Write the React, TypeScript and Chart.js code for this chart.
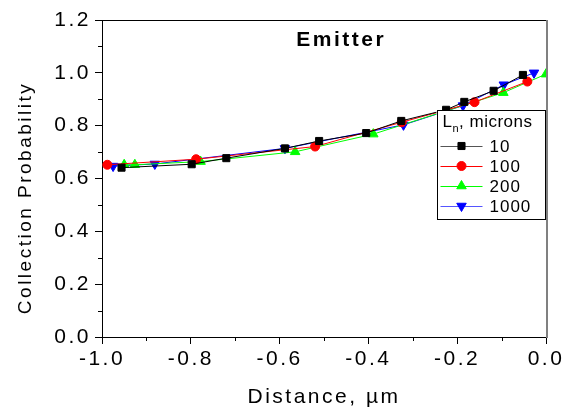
import React, { useEffect, useRef } from 'react';
import { Chart, registerables } from 'chart.js';

Chart.register(...registerables);

// ---- data ----
const distance10 = [-0.956, -0.798, -0.72, -0.588, -0.511, -0.405, -0.326, -0.225, -0.184, -0.118, -0.052];
const probability10 = [0.641, 0.654, 0.677, 0.714, 0.742, 0.772, 0.818, 0.86, 0.89, 0.932, 0.992];

const distance100 = [-0.988, -0.788, -0.52, -0.325, -0.161, -0.042];
const probability100 = [0.652, 0.673, 0.721, 0.813, 0.889, 0.967];

const distance200 = [-0.95, -0.926, -0.778, -0.565, -0.389, -0.096, 0.0];
const probability200 = [0.652, 0.652, 0.664, 0.701, 0.768, 0.925, 0.995];

const distance1000 = [-0.975, -0.881, -0.588, -0.321, -0.187, -0.095, -0.027];
const probability1000 = [0.647, 0.655, 0.714, 0.803, 0.876, 0.955, 1.0];

const seriesLabels = ['10', '100', '200', '1000'];
const xTicks = [-1.0, -0.8, -0.6, -0.4, -0.2, 0.0];
const yTicks = [0.0, 0.2, 0.4, 0.6, 0.8, 1.0, 1.2];

const chartTitle = 'Emitter';
const legendTitleMain = 'L';
const legendTitleSub = 'n';
const legendTitleRest = ', microns';
const xTitle = 'Distance, µm';
const yTitle = 'Collection Probability';

const FONT = '"Liberation Sans", Arial, Helvetica, sans-serif';
const LS = 2.5;

const fmt = (v: number) => {
  const s = Number(v).toFixed(1);
  return s === '-0.0' ? '0.0' : s;
};

function drawMarker(ctx: CanvasRenderingContext2D, style: string, x: number, y: number, r: number, rot: number, color: string) {
  ctx.save();
  ctx.fillStyle = color;
  ctx.strokeStyle = color;
  ctx.beginPath();
  if (style === 'rect') {
    const s = Math.SQRT1_2 * r;
    ctx.rect(x - s, y - s, 2 * s, 2 * s);
  } else if (style === 'circle') {
    ctx.arc(x, y, r, 0, Math.PI * 2);
  } else {
    const rad = (rot * Math.PI) / 180;
    for (let k = 0; k < 3; k++) {
      const a = rad + (k * 2 * Math.PI) / 3;
      const px = x + Math.sin(a) * r;
      const py = y - Math.cos(a) * r;
      if (k === 0) ctx.moveTo(px, py);
      else ctx.lineTo(px, py);
    }
    ctx.closePath();
  }
  ctx.fill();
  ctx.stroke();
  ctx.restore();
}

const spacingPlugin = {
  id: 'spacing',
  beforeUpdate(chart: any) {
    (chart.ctx as any).letterSpacing = LS + 'px';
  },
  beforeLayout(chart: any) {
    (chart.ctx as any).letterSpacing = LS + 'px';
  },
  beforeDraw(chart: any) {
    (chart.ctx as any).letterSpacing = LS + 'px';
  },
};

const framePlugin = {
  id: 'frame',
  beforeDatasetsDraw(chart: any) {
    const { ctx, chartArea, scales } = chart;
    const { left, top, right, bottom } = chartArea;
    ctx.save();
    ctx.strokeStyle = '#000';
    ctx.lineWidth = 1;
    ctx.beginPath();
    ctx.moveTo(left, Math.round(top) + 0.5);
    ctx.lineTo(right, Math.round(top) + 0.5);
    ctx.stroke();
    // minor ticks between major ones
    const xs = scales.x.ticks;
    ctx.beginPath();
    for (let i = 0; i < xs.length - 1; i++) {
      const v = (xs[i].value + xs[i + 1].value) / 2;
      const px = Math.round(scales.x.getPixelForValue(v)) + 0.5;
      ctx.moveTo(px, bottom);
      ctx.lineTo(px, bottom + 4);
    }
    const ys = scales.y.ticks;
    for (let i = 0; i < ys.length - 1; i++) {
      const v = (ys[i].value + ys[i + 1].value) / 2;
      const py = Math.round(scales.y.getPixelForValue(v)) + 0.5;
      ctx.moveTo(left, py);
      ctx.lineTo(left - 4, py);
    }
    ctx.stroke();
    ctx.strokeStyle = '#808080';
    ctx.lineWidth = 2;
    ctx.beginPath();
    ctx.moveTo(right + 1, top);
    ctx.lineTo(right + 1, bottom + 1);
    ctx.stroke();
    ctx.restore();
  },
};

const annotationPlugin = {
  id: 'annot',
  afterDatasetsDraw(chart: any) {
    const { ctx, chartArea } = chart;
    ctx.save();
    // chart title inside plot
    (ctx as any).letterSpacing = LS + 'px';
    ctx.fillStyle = '#000';
    ctx.font = `bold 21px ${FONT}`;
    ctx.textAlign = 'center';
    ctx.textBaseline = 'middle';
    ctx.fillText(chartTitle, chartArea.left + 238 + LS / 2, chartArea.top + 20);

    // legend box
    const right = chartArea.right - 1.5;
    const left = right - 108;
    const top = chartArea.top + 90;
    const bottom = top + 109;
    ctx.fillStyle = '#fff';
    ctx.fillRect(left, top, right - left, bottom - top);
    ctx.strokeStyle = '#000';
    ctx.lineWidth = 1;
    ctx.strokeRect(Math.round(left) + 0.5, Math.round(top) + 0.5, Math.round(right - left), Math.round(bottom - top));

    (ctx as any).letterSpacing = '0.5px';
    ctx.fillStyle = '#000';
    ctx.textAlign = 'left';
    ctx.textBaseline = 'alphabetic';
    ctx.font = `17px ${FONT}`;
    const tx = left + 6;
    ctx.fillText(legendTitleMain, tx, top + 17);
    const lw = ctx.measureText(legendTitleMain).width;
    ctx.font = `11px ${FONT}`;
    ctx.fillText(legendTitleSub, tx + lw, top + 22);
    const nw = ctx.measureText(legendTitleSub).width;
    ctx.font = `17px ${FONT}`;
    ctx.fillText(legendTitleRest, tx + lw + nw, top + 17);

    (ctx as any).letterSpacing = '1px';
    chart.data.datasets.forEach((ds: any, i: number) => {
      const cy = top + 36 + i * 20;
      ctx.save();
      ctx.strokeStyle = ds.legendLine;
      ctx.lineWidth = 1;
      ctx.beginPath();
      ctx.moveTo(left + 4, cy + 0.5);
      ctx.lineTo(left + 46, cy + 0.5);
      ctx.stroke();
      ctx.restore();
      drawMarker(ctx, ds.pointStyle, left + 25, cy, ds.pointRadius, ds.pointRotation || 0, ds.borderColor);
      ctx.fillStyle = '#000';
      ctx.textBaseline = 'middle';
      ctx.font = `17px ${FONT}`;
      ctx.fillText(ds.label, left + 53, cy + 1);
    });
    ctx.restore();
  },
};

function makeSeries(label: string, xs: number[], ys: number[], color: string, legendLine: string, style: string, radius: number, rotation: number) {
  return {
    label,
    data: xs.map((x, i) => ({ x, y: ys[i] })),
    borderColor: color,
    backgroundColor: color,
    borderWidth: 1,
    pointStyle: style,
    pointRadius: radius,
    pointHoverRadius: radius,
    pointRotation: rotation,
    pointBorderWidth: 1,
    pointBackgroundColor: color,
    pointBorderColor: color,
    tension: 0,
    fill: false,
    legendLine,
  };
}

export default function App() {
  const ref = useRef<HTMLCanvasElement>(null);

  useEffect(() => {
    document.body.style.margin = '0';
    const canvas = ref.current;
    if (!canvas) return;
    const chart = new Chart(canvas, {
      type: 'line',
      data: {
        datasets: [
          makeSeries(seriesLabels[0], distance10, probability10, '#000000', '#555555', 'rect', 5, 0),
          makeSeries(seriesLabels[1], distance100, probability100, '#ff0000', '#ff0000', 'circle', 4.5, 0),
          makeSeries(seriesLabels[2], distance200, probability200, '#00ff00', '#00ff00', 'triangle', 5.5, 0),
          makeSeries(seriesLabels[3], distance1000, probability1000, '#0000ff', '#5555ff', 'triangle', 5.5, 180),
        ] as any,
      },
      options: {
        responsive: false,
        animation: false,
        events: [],
        layout: { padding: { top: 20, right: 28, left: 0, bottom: 0 } },
        plugins: {
          legend: { display: false },
          tooltip: { enabled: false },
          title: { display: false },
        },
        scales: {
          x: {
            type: 'linear',
            min: xTicks[0],
            max: xTicks[xTicks.length - 1],
            afterBuildTicks: (scale: any) => {
              scale.ticks = xTicks.map((v) => ({ value: v }));
            },
            afterFit: (scale: any) => {
              scale.height = 79;
            },
            grid: { drawOnChartArea: false, drawTicks: true, tickLength: 7, color: '#000', lineWidth: 1 },
            border: { display: true, color: '#000', width: 1 },
            ticks: {
              color: '#000',
              font: { family: FONT, size: 21 },
              padding: 3,
              maxRotation: 0,
              autoSkip: false,
              callback: (v: any) => fmt(Number(v)),
            },
            title: {
              display: true,
              text: xTitle,
              color: '#000',
              font: { family: FONT, size: 21 },
              padding: { top: 0, bottom: 6 },
            },
          },
          y: {
            type: 'linear',
            min: yTicks[0],
            max: yTicks[yTicks.length - 1],
            afterBuildTicks: (scale: any) => {
              scale.ticks = yTicks.map((v) => ({ value: v }));
            },
            afterFit: (scale: any) => {
              scale.width = 102;
            },
            grid: { drawOnChartArea: false, drawTicks: true, tickLength: 7, color: '#000', lineWidth: 1 },
            border: { display: true, color: '#000', width: 1 },
            ticks: {
              color: '#000',
              font: { family: FONT, size: 21 },
              padding: 4,
              autoSkip: false,
              callback: (v: any) => fmt(Number(v)),
            },
            title: {
              display: true,
              text: yTitle + '     ',
              color: '#000',
              font: { family: FONT, size: 19 },
              padding: { top: 14, bottom: 0 },
            },
          },
        },
      } as any,
      plugins: [spacingPlugin, framePlugin, annotationPlugin] as any,
    });
    return () => chart.destroy();
  }, []);

  return (
    <div style={{ width: 574, height: 416 }}>
      <canvas ref={ref} width={574} height={416} style={{ display: 'block', width: 574, height: 416 }} />
    </div>
  );
}
